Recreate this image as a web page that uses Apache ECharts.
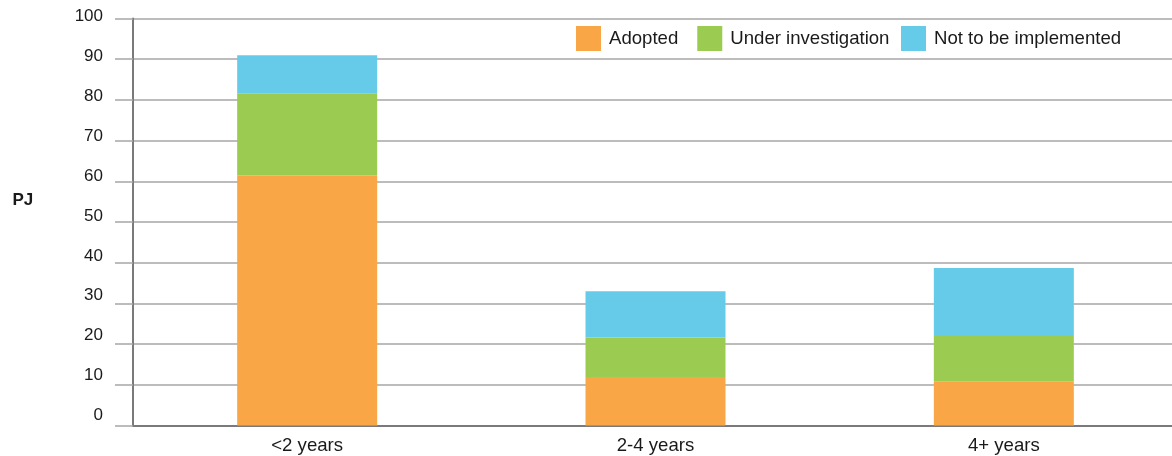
<!DOCTYPE html>
<html>
<head>
<meta charset="utf-8">
<script src="https://cdn.jsdelivr.net/npm/echarts@6/dist/echarts.min.js"></script>
<style>
  html, body { margin: 0; padding: 0; background: #fff; }
  #chart { width: 1172px; height: 456px; }
</style>
</head>
<body>
<div id="chart"></div>
<script>
// Savings by payback period, PJ
const categories = ['<2 years', '2-4 years', '4+ years'];
const adopted = [61.4, 11.9, 10.9];
const underInvestigation = [20.1, 9.7, 11.1];
const notToBeImplemented = [9.5, 11.4, 16.7];
const yTicks = { min: 0, max: 100, interval: 10 };

const FONT = 'Liberation Sans, Arial, sans-serif';
const TEXT = '#1a1a1a';
const chart = echarts.init(document.getElementById('chart'), null, { renderer: 'canvas' });

// Tick labels sit a little above their grid lines, more so toward the bottom.
const tickRich = {};
for (let v = yTicks.min; v <= yTicks.max; v += yTicks.interval) {
  const lift = 2.2 + (yTicks.max - v) * 0.078;
  tickRich['t' + v] = { fontSize: 17, color: TEXT, fontFamily: FONT, lineHeight: 2 * lift };
}

function barSeries(name, data, color) {
  return {
    name, type: 'bar', stack: 'total', data,
    barWidth: 140,
    itemStyle: { color },
    emphasis: { disabled: true }
  };
}

function legendAt(left, names) {
  return {
    top: 21, left,
    itemWidth: 25, itemHeight: 25, itemGap: 19,
    icon: 'rect',
    textStyle: { fontSize: 18.6, color: TEXT, fontFamily: FONT, padding: [0, 0, 0, 3] },
    data: names
  };
}

chart.setOption({
  animation: false,
  textStyle: { fontFamily: FONT },
  // the plot runs slightly past the right edge of the canvas
  grid: { left: 133, width: 1045, top: 18.5, bottom: 30.5, outerBoundsMode: 'none', containLabel: false },
  legend: [
    legendAt(571, ['Adopted', 'Under investigation']),
    legendAt(896, ['Not to be implemented'])
  ],
  graphic: [{
    type: 'text', left: 12.5, top: 192,
    style: { text: 'PJ', font: 'bold 17px ' + FONT, fill: TEXT }
  }],
  xAxis: {
    type: 'category', data: categories,
    axisLine: { lineStyle: { color: '#7a7a7a', width: 2 } },
    axisTick: { show: false },
    axisLabel: { fontSize: 18.6, color: TEXT, margin: 11, fontFamily: FONT }
  },
  yAxis: {
    type: 'value', min: yTicks.min, max: yTicks.max, interval: yTicks.interval,
    axisLine: { show: true, lineStyle: { color: '#7a7a7a', width: 2 } },
    axisTick: { show: true, length: 18, lineStyle: { color: '#a6a6a6', width: 1.5 } },
    splitLine: { lineStyle: { color: '#a6a6a6', width: 1.5 } },
    axisLabel: {
      margin: 30, verticalAlign: 'bottom',
      formatter: v => '{t' + v + '|' + v + '}',
      rich: tickRich
    }
  },
  series: [
    barSeries('Adopted', adopted, '#F9A646'),
    barSeries('Under investigation', underInvestigation, '#9BCB51'),
    barSeries('Not to be implemented', notToBeImplemented, '#66CBE9')
  ]
});
</script>
</body>
</html>
